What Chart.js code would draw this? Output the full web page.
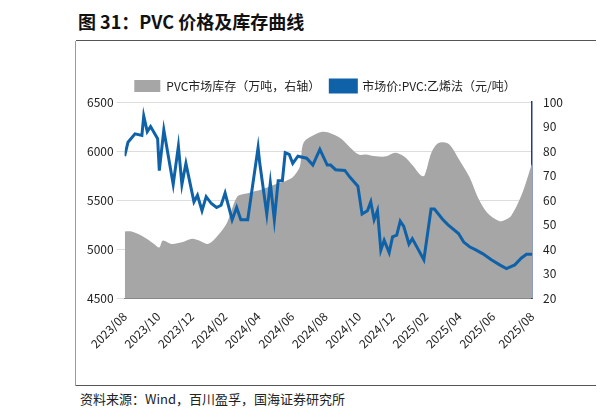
<!DOCTYPE html>
<html><head><meta charset="utf-8">
<script src="https://cdn.jsdelivr.net/npm/chart.js@4.4.0/dist/chart.umd.min.js"></script>
<style>
body{margin:0;background:#fff;font-family:"Noto Sans CJK SC",sans-serif;}
#t{position:absolute;left:78px;top:8px;font-size:18px;font-weight:bold;color:#111;}
#hl{position:absolute;left:76px;top:40px;width:520px;border-top:1.5px solid #555;}
#vl{position:absolute;left:75px;top:41px;height:345px;border-left:1px solid #999;}
#fl{position:absolute;left:76px;top:385px;width:520px;border-top:1px solid #555;}
#s{position:absolute;left:80px;top:389px;font-size:13px;color:#222;}
#c{position:absolute;left:84px;top:70px;width:484px;height:284px;}
</style></head><body>
<div id="t">图 31：PVC 价格及库存曲线</div><div id="hl"></div><div id="vl"></div><div id="fl"></div>
<div id="s">资料来源：Wind，百川盈孚，国海证券研究所</div>
<div id="c"><canvas id="cv"></canvas></div>
<script>
const tickLabels=["2023/08","2023/10","2023/12","2024/02","2024/04","2024/06","2024/08","2024/10","2024/12","2025/02","2025/04","2025/06","2025/08"];
const stockX=[0,0.41,1.14,1.76,2.07,2.28,2.8,3.42,4.04,4.45,4.97,5.49,6.11,6.73,7.35,8.18,9.01,9.63,10.04,10.46,10.7,11.49,11.9,12.32,12.94,13.46,13.98,14.39,15.01,15.63,16.15,16.67,17.18,17.7,17.91,18.32,18.74,19.36,19.98,20.6,21.12,21.64,22.36,22.67,23.08,23.71,24.33];
const stockY=[5179,5179,5125,5054,5018,5089,5054,5071,5107,5089,5054,5125,5268,5536,5571,5607,5661,5696,5732,5839,6089,6179,6196,6179,6125,6036,5964,5964,5946,5946,5982,5946,5857,5750,5750,5982,6082,6071,5911,5732,5518,5375,5286,5296,5339,5554,5875];
const priceX=[0,0.2,0.62,1.03,1.14,1.35,1.55,1.97,2.07,2.34,2.9,3.21,3.42,3.66,4.14,4.35,4.62,4.87,5.18,5.49,5.76,6.0,6.42,6.69,6.94,7.35,7.97,8.07,8.49,8.7,8.94,9.17,9.42,9.59,9.83,10.04,10.35,10.87,11.24,11.66,12.1,12.3,12.6,13.15,13.46,13.93,14.18,14.5,14.7,14.9,15.1,15.3,15.5,15.8,16.0,16.25,16.46,16.67,16.98,17.18,17.87,18.3,18.5,19.0,19.3,19.94,20.25,20.6,21.0,21.4,21.9,22.4,22.8,23.3,23.7,24.0,24.33];
const priceY=[77.9,83.6,87,86.4,94.3,87.9,90,85,72,88.6,66.4,82,66.4,75,59.3,62,55.7,61.4,58.6,57,57.9,62.9,52,57,52,52,81.4,75,54.3,67,52,67.9,67.9,79.3,78.6,75,77.9,77.1,74.3,80.7,74.3,74.3,72.4,72.1,69.3,65.7,54.3,55.7,59.3,52,55.7,39.6,43.6,38.6,45,45.7,51.4,49.3,42.1,44.3,35.7,56.4,56.4,52.1,50,46.4,42.9,41,39.6,38.1,35.7,33.6,32.1,33.6,36.4,37.9,37.9];
const F='"Noto Sans CJK SC",sans-serif';
new Chart(document.getElementById('cv'),{
 data:{datasets:[
  {type:'line',label:'市场价:PVC:乙烯法（元/吨）',data:priceX.map((x,i)=>({x,y:priceY[i]})),yAxisID:'y2',borderColor:'#0F62A8',backgroundColor:'#0F62A8',borderWidth:3,pointRadius:0,tension:0,order:1},
  {type:'line',label:'PVC市场库存（万吨，右轴）',data:stockX.map((x,i)=>({x,y:stockY[i]})),yAxisID:'y',borderWidth:0,backgroundColor:'#A6A6A6',borderColor:'#A6A6A6',fill:'origin',pointRadius:0,tension:0.3,order:2}
 ]},
 options:{responsive:true,maintainAspectRatio:false,animation:false,
  layout:{padding:{right:2}},
  plugins:{legend:{reverse:true,labels:{font:{family:F,size:12},color:'#222',boxWidth:26,boxHeight:12,padding:10}},tooltip:{enabled:false}},
  scales:{
   x:{type:'linear',min:0,max:24.33,ticks:{stepSize:2,autoSkip:false,maxRotation:45,minRotation:45,font:{family:F,size:12},color:'#222',callback:v=>tickLabels[Math.round(v/2)]??''},grid:{display:false},border:{color:'#888'}},
   y:{position:'left',min:4500,max:6500,ticks:{stepSize:500,font:{family:F,size:12},color:'#222',callback:v=>String(v)},grid:{color:'#ddd'},border:{display:false}},
   y2:{position:'right',min:20,max:100,ticks:{stepSize:10,font:{family:F,size:12},color:'#222'},grid:{display:false},border:{color:'#1F3F7A',width:1.5}}
  }}
});
</script></body></html>
